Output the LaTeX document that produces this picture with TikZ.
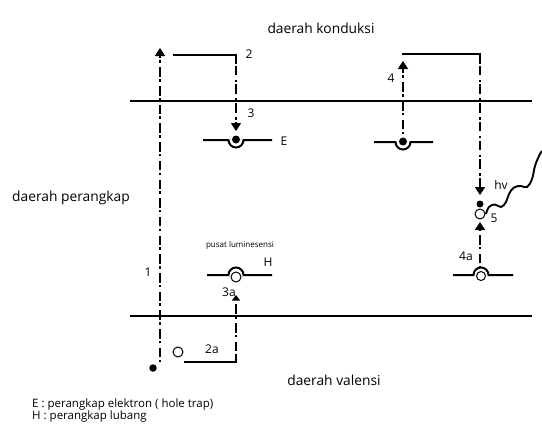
\documentclass[tikz,border=0pt]{standalone}
\usepackage{fontspec}
\setmainfont{Open Sans}
\usetikzlibrary{arrows.meta}
\tikzset{
  band/.style={line width=2pt},
  level/.style={line width=2pt},
  solidpath/.style={line width=2pt},
  jump/.style={line width=1.7pt, dash pattern=on 2.5pt off 2.2pt on 9.5pt off 4.5pt},
  tip/.style={-{Triangle[width=10pt,length=8pt]}},
  smalltip/.style={-{Triangle[width=8pt,length=5.5pt]}},
  lbl/.style={font=\fontsize{12}{14}\selectfont, inner sep=0pt},
  region/.style={font=\fontsize{13.8}{16}\selectfont, inner sep=0pt},
  legend/.style={font=\fontsize{11.5}{13}\selectfont, inner sep=0pt, anchor=base west},
  electron/.style={circle, fill=black, inner sep=0pt, minimum size=8pt},
  hole/.style={circle, draw=black, fill=white, line width=1pt, inner sep=0pt, minimum size=10pt},
}
\begin{document}
\begin{tikzpicture}[x=1pt,y=-1pt]
\useasboundingbox (0,0) rectangle (542,431);

% band edges
\coordinate (cbL) at (130,101); \coordinate (cbR) at (532,101);
\coordinate (vbL) at (130,316); \coordinate (vbR) at (532,316);
\draw[band] (cbL) -- (cbR);
\draw[band] (vbL) -- (vbR);

% region names
\node[region] (kond) at (321,28) {daerah konduksi};
\node[region, anchor=west] (perang) at (12,198) {daerah perangkap};
\node[region] (val) at (334,380) {daerah valensi};

% transition 1: valence band electron excited to the conduction band
\node[electron, minimum size=7.5pt] (e1) at (153,368) {};
\coordinate (t1a) at (160,362); \coordinate (t1b) at (160,48);
\draw[jump, tip] (t1a) -- (t1b);
\node[lbl] (l1) at (148,272) {1};

% transition 2 and 3: electron drifts and is captured by the trap E
\coordinate (t2a) at (173,55); \coordinate (t2b) at (236,55);
\coordinate (t2c) at (236,61); \coordinate (t3) at (236,131);
\draw[solidpath] (t2a) -- (t2b) -- (t2c);
\draw[jump, tip] (t2c) -- (t3);
\node[lbl] (l2) at (249,54) {2};
\node[lbl] (l3) at (251,113) {3};

% electron trap E
\coordinate (eL) at (203,140); \coordinate (eR) at (272,140);
\draw[level] (eL) -- (228.5,140) arc[start angle=180, end angle=0, radius=7.5] -- (eR);
\node[electron] (eTrap) at (236,139.5) {};
\node[lbl] (lE) at (284,141) {E};

% second electron trap and release (4)
\coordinate (mL) at (374,142); \coordinate (mR) at (433,142);
\draw[level] (mL) -- (395.5,142) arc[start angle=180, end angle=0, radius=7.5] -- (mR);
\node[electron] (mTrap) at (403,141.5) {};
\coordinate (t4a) at (403,134); \coordinate (t4b) at (403,61);
\draw[jump, tip] (t4a) -- (t4b);
\node[lbl] (l4) at (391,78) {4};
\coordinate (t4c) at (402,54); \coordinate (t4d) at (480,54);
\coordinate (t4e) at (480,61); \coordinate (t4f) at (480,195);
\draw[solidpath] (t4c) -- (t4d) -- (t4e);
\draw[jump, tip] (t4e) -- (t4f);

% recombination (5)
\node[electron, minimum size=7pt] (e5) at (480,204) {};
\node[hole] (h5) at (480,214) {};
\node[lbl] (l5) at (494,218) {5};
\node[lbl] (lhv) at (501,185) {hv};
\draw[line width=1.9pt] plot[smooth, tension=0.7] coordinates
  {(486,214) (489,207) (495,204.5) (501,207) (506,202) (509,194) (514,187.5) (521,186) (527,187) (532,179) (535,166) (539,156) (542,151)};

% hole trap at the right and hole release (4a)
\coordinate (rL) at (453,275); \coordinate (rR) at (513,275);
\draw[level] (rL) -- (473.5,275) arc[start angle=180, end angle=360, radius=7.5] -- (rR);
\node[hole, minimum size=9pt] (hR) at (481,276) {};
\coordinate (t4aa) at (480,268); \coordinate (t4ab) at (480,222);
\draw[jump, tip] (t4aa) -- (t4ab);
\node[lbl] (l4a) at (466,256) {4a};

% luminescence centre H
\node[font=\fontsize{8}{9}\selectfont, inner sep=0pt] (pl) at (240,245) {pusat luminesensi};
\coordinate (hL) at (207,275); \coordinate (hRr) at (272,275);
\draw[level] (hL) -- (228.5,275) arc[start angle=180, end angle=360, radius=7.5] -- (hRr);
\node[hole] (hTrap) at (236,277) {};
\node[lbl] (lH) at (268,262) {H};

% hole path 2a and capture 3a
\node[hole] (h2a) at (178,352) {};
\coordinate (t2aa) at (184,362); \coordinate (t2ab) at (236,362);
\coordinate (t2ac) at (236,356); \coordinate (t3a) at (236,295);
\draw[solidpath] (t2aa) -- (t2ab) -- (t2ac);
\draw[jump, smalltip] (t2ac) -- (t3a);
\node[lbl] (l2a) at (212,349) {2a};
\node[lbl] (l3a) at (229,292) {3a};

% legend
\node[legend] (legE) at (32,407) {E : perangkap elektron ( hole trap)};
\node[legend] (legH) at (32,419.5) {H : perangkap lubang};
\end{tikzpicture}
\end{document}
